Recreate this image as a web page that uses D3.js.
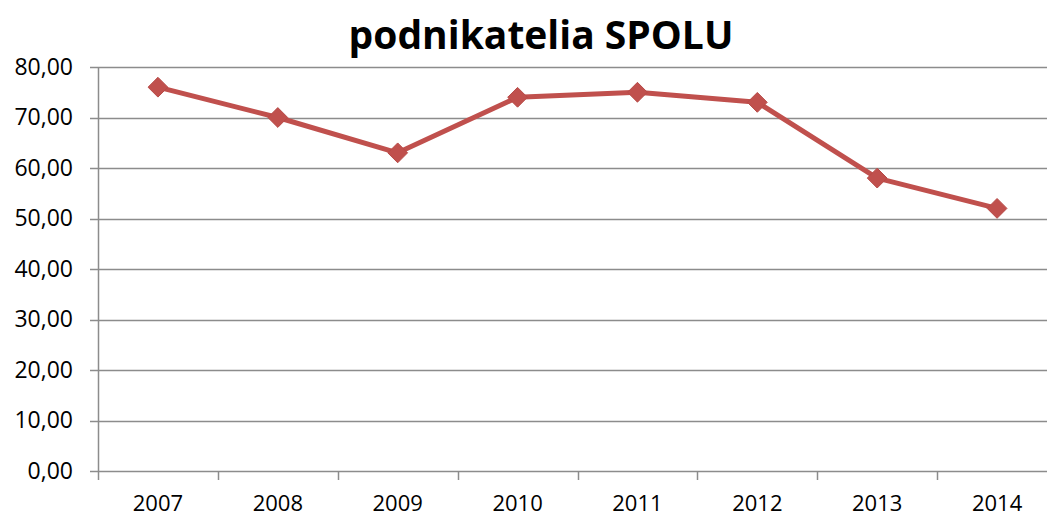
<!DOCTYPE html>
<html>
<head>
<meta charset="utf-8">
<script src="https://cdn.jsdelivr.net/npm/d3@7"></script>
<style>
  body { margin: 0; background: #fff; }
  svg { display: block; font-family: "Open Sans", sans-serif; }
</style>
</head>
<body>
<svg id="viz"></svg>
<script>
// data
var years = ["2007", "2008", "2009", "2010", "2011", "2012", "2013", "2014"];
var values = [76, 70, 63, 74, 75, 73, 58, 52];
var yTicks = [0, 10, 20, 30, 40, 50, 60, 70, 80];

(function() {
  var w = 1047, h = 518;
  var viz = d3.select("#viz").attr("width", w).attr("height", h);

  // plot area (right edge runs past the frame, like the original crop)
  var left = 98, right = 1057, plotTop = 67, bottom = 471;

  var x = d3.scaleBand().domain(years).range([left, right]);
  var y = d3.scaleLinear().domain([0, 80]).range([bottom, plotTop]);

  // gridlines
  viz.append("g")
    .selectAll("line")
    .data(yTicks)
    .enter()
    .append("line")
    .attr("x1", left - 8)
    .attr("x2", right)
    .attr("y1", function(d) { return Math.round(y(d)) + 0.5; })
    .attr("y2", function(d) { return Math.round(y(d)) + 0.5; })
    .attr("stroke", "#8c8c8c")
    .attr("stroke-width", 1.5);

  // y axis
  var yAxis = d3.axisLeft(y).tickValues(yTicks).tickSize(0).tickPadding(25)
    .tickFormat(function(d) { return d3.format(".2f")(d).replace(".", ","); });
  viz.append("g")
    .attr("transform", "translate(" + left + ",0)")
    .call(yAxis)
    .call(function(g) {
      g.select(".domain").attr("stroke", "#8c8c8c").attr("stroke-width", 1.5);
      g.selectAll("text").attr("font-size", 23).attr("fill", "#000")
        .attr("font-family", "Open Sans, sans-serif");
    });

  // x axis
  var xAxis = d3.axisBottom(x).tickSize(0).tickPadding(24);
  var gx = viz.append("g")
    .attr("transform", "translate(0," + bottom + ")")
    .call(xAxis);
  gx.select(".domain").remove();
  gx.selectAll("text").attr("font-size", 22).attr("fill", "#000")
    .attr("font-family", "Open Sans, sans-serif");

  // x ticks between categories
  viz.append("g")
    .selectAll("line")
    .data(years)
    .enter()
    .append("line")
    .attr("x1", function(d) { return Math.round(x(d)) + 0.5; })
    .attr("x2", function(d) { return Math.round(x(d)) + 0.5; })
    .attr("y1", bottom)
    .attr("y2", bottom + 9)
    .attr("stroke", "#8c8c8c")
    .attr("stroke-width", 1.5);

  // line
  var line = d3.line()
    .x(function(d, i) { return x(years[i]) + x.bandwidth() / 2; })
    .y(function(d) { return y(d); });

  viz.append("path")
    .datum(values)
    .attr("d", line)
    .attr("fill", "none")
    .attr("stroke", "#c0504d")
    .attr("stroke-width", 5)
    .attr("stroke-linejoin", "round");

  // diamond markers
  viz.append("g")
    .selectAll("path")
    .data(values)
    .enter()
    .append("path")
    .attr("d", d3.symbol().type(d3.symbolDiamond2).size(250))
    .attr("transform", function(d, i) {
      return "translate(" + (x(years[i]) + x.bandwidth() / 2) + "," + y(d) + ")";
    })
    .attr("fill", "#c0504d")
    .attr("stroke", "#b84a47")
    .attr("stroke-width", 1);

  // title
  viz.append("text")
    .attr("x", 541)
    .attr("y", 49)
    .attr("text-anchor", "middle")
    .attr("font-size", 39)
    .attr("font-weight", "bold")
    .attr("fill", "#000")
    .text("podnikatelia SPOLU");
})();
</script>
</body>
</html>
